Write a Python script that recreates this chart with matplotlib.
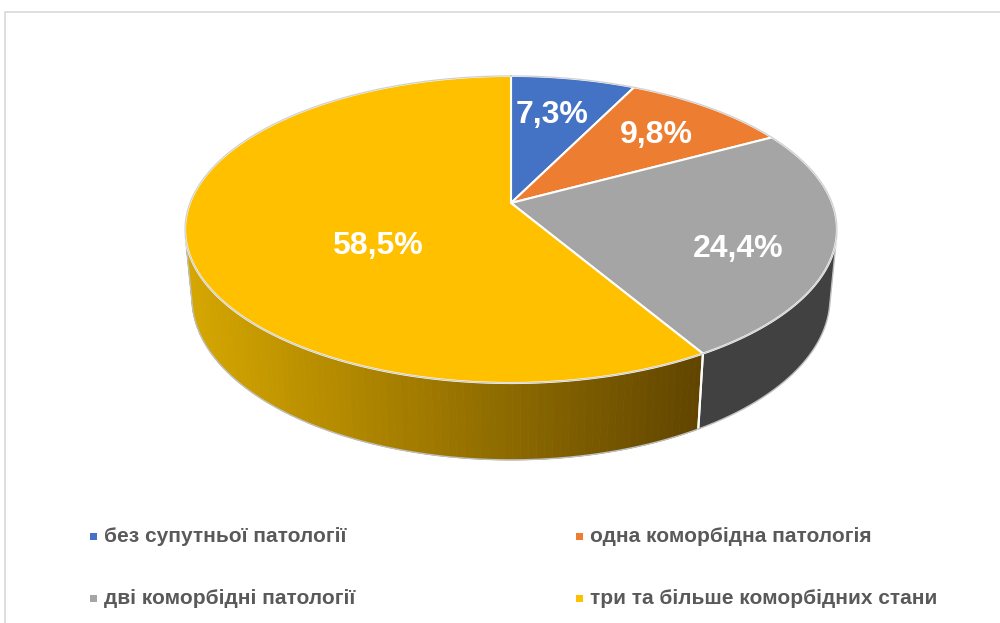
import numpy as np
import matplotlib
matplotlib.use("Agg")
import matplotlib.pyplot as plt
from matplotlib.patches import Polygon, Rectangle

# ---- data ----
categories = ["без супутньої патології", "одна коморбідна патологія",
              "дві коморбідні патології", "три та більше коморбідних стани"]
values = [7.3, 9.8, 24.4, 58.5]
labels = ["7,3%", "9,8%", "24,4%", "58,5%"]
top_colors = ["#4472C4", "#ED7D31", "#A5A5A5", "#FFC000"]

FONT = ["Liberation Sans", "DejaVu Sans"]

# ---- 3D disk with perspective projection ----
ELEV = np.deg2rad(27.2)
DIST = 5.16
FOCAL = 1682.0          # pixels per unit at unit depth
XSCALE = 0.985          # slight horizontal squeeze of the disk
CX, CY = 511.0, 203.0   # screen position of the pie centre
THICK = 0.238

ce, se = np.cos(ELEV), np.sin(ELEV)
cam = np.array([0.0, -DIST * ce, DIST * se])
fwd = np.array([0.0, ce, -se])
upv = np.array([0.0, se, ce])


def project(X, Y, Z):
    P = np.stack([X, Y, Z], axis=-1) - cam
    depth = P @ fwd
    sx = P[..., 0] / depth * FOCAL * XSCALE
    sy = (P @ upv) / depth * FOCAL
    return CX + sx, CY - sy


def rim(a0, a1, z, n=120):
    # angles measured clockwise from 12 o'clock
    t = np.linspace(a0, a1, n)
    return project(np.sin(t), np.cos(t), np.full_like(t, z))


fig = plt.figure(figsize=(10, 6.23), dpi=100)
ax = fig.add_axes([0, 0, 1, 1])
ax.set_xlim(0, 1000)
ax.set_ylim(623, 0)
ax.axis("off")

# chart-area frame
fig.patches.append(Rectangle((5 / 1000, -0.1), 1.2, 1 - 12 / 623 + 0.1,
                             transform=fig.transFigure, fill=False,
                             edgecolor="#D9D9D9", linewidth=1.2, zorder=0))

frac = np.array(values) / sum(values)
bounds = np.concatenate([[0], np.cumsum(frac)]) * 2 * np.pi

# visible part of the side wall: Y < -1/(D cos e)
y_lim = -1.0 / (DIST * ce)
vis_a0 = np.pi - np.arccos(-y_lim)   # clockwise angles where side faces camera
vis_a1 = np.pi + np.arccos(-y_lim)


def side_shade(xpix):
    # darker towards the right, as lit from the left
    left = np.array([214, 167, 0]) / 255
    right = np.array([96, 68, 0]) / 255
    t = np.clip((xpix - 185) / (706 - 185), 0, 1)
    return tuple(left + (right - left) * t)


side_flat = {2: "#414141"}

for i in range(len(values)):
    a0, a1 = bounds[i], bounds[i + 1]
    s0, s1 = max(a0, vis_a0), min(a1, vis_a1)
    if s1 <= s0:
        continue
    if i in side_flat:
        xt, yt = rim(s0, s1, 0.0)
        xb, yb = rim(s1, s0, -THICK)
        ax.add_patch(Polygon(np.column_stack([np.r_[xt, xb], np.r_[yt, yb]]),
                             closed=True, facecolor=side_flat[i],
                             edgecolor="none", zorder=2))
    else:
        steps = np.linspace(s0, s1, 90)
        for u0, u1 in zip(steps[:-1], steps[1:]):
            xt, yt = rim(u0, u1, 0.0, 4)
            xb, yb = rim(u1, u0, -THICK, 4)
            col = side_shade(xt.mean())
            ax.add_patch(Polygon(np.column_stack([np.r_[xt, xb], np.r_[yt, yb]]),
                                 closed=True, facecolor=col, edgecolor=col,
                                 linewidth=0.6, zorder=2))
    # white seam between side segments
    for a in (a0, a1):
        if vis_a0 < a < vis_a1:
            x0, y0 = project(np.sin(a), np.cos(a), 0.0)
            x1, y1 = project(np.sin(a), np.cos(a), -THICK)
            ax.plot([x0, x1], [y0, y1], color="white", lw=1.5, zorder=3)

# outline of the lower rim
xb, yb = rim(vis_a0, vis_a1, -THICK, 200)
ax.plot(xb, yb, color="#BFBFBF", lw=1.0, zorder=3)
for a in (vis_a0, vis_a1):
    x0, y0 = project(np.sin(a), np.cos(a), 0.0)
    x1, y1 = project(np.sin(a), np.cos(a), -THICK)
    ax.plot([x0, x1], [y0, y1], color="#BFBFBF", lw=1.0, zorder=3)

# top face
for i in range(len(values)):
    a0, a1 = bounds[i], bounds[i + 1]
    xt, yt = rim(a0, a1, 0.0, 200)
    ax.add_patch(Polygon(np.column_stack([np.r_[CX, xt], np.r_[CY, yt]]),
                         closed=True, facecolor=top_colors[i],
                         edgecolor="white", linewidth=1.5, zorder=4))
xo, yo = rim(0, 2 * np.pi, 0.0, 400)
ax.plot(xo, yo, color="#D0D0D0", lw=0.9, zorder=5)

# value labels on the top face
label_pos = [(552, 115), (656, 135), (738, 249), (377, 246)]
for (lx, ly), txt in zip(label_pos, labels):
    ax.text(lx, ly, txt, color="white", fontsize=23, fontweight="bold",
            family=FONT, ha="center", va="center", zorder=6)

# legend
leg_pos = [(93, 536), (579, 536), (93, 598), (579, 598)]
for (lx, ly), name, col in zip(leg_pos, categories, top_colors):
    ax.add_patch(Rectangle((lx - 3.5, ly - 3.5), 7, 7, facecolor=col,
                           edgecolor="none", zorder=6))
    ax.text(lx + 11, ly, name, color="#595959", fontsize=15,
            fontweight="bold", family=FONT, ha="left", va="center",
            zorder=6)

fig.savefig("out.png", dpi=100)
